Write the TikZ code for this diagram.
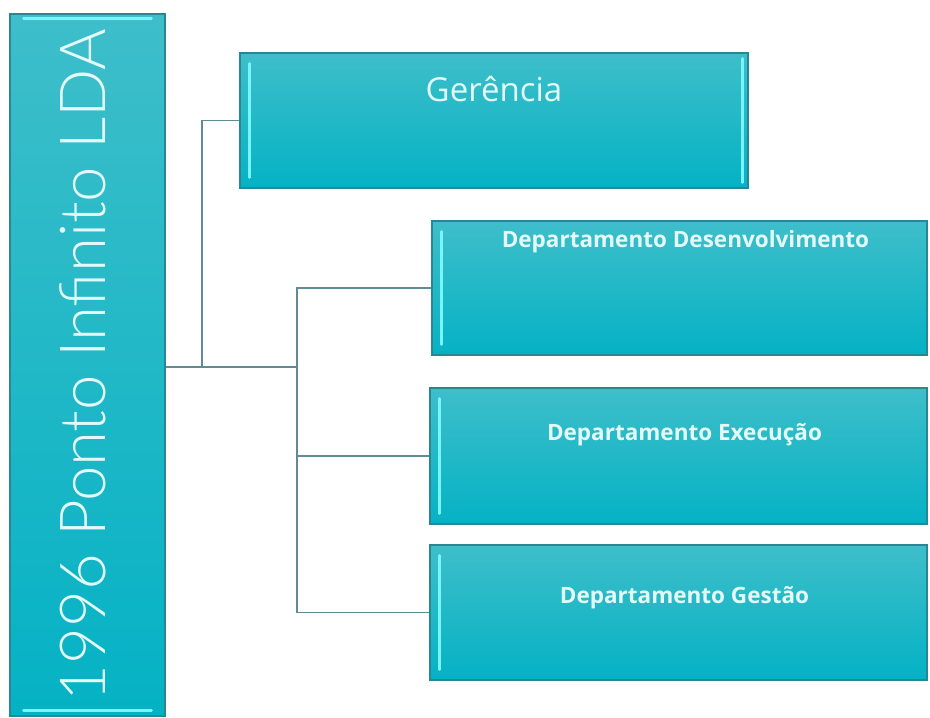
\documentclass[tikz,border=0pt]{standalone}
\usepackage{fontspec}
\setmainfont{Open Sans}
\newfontfamily\thinfont{Lato Light}
\usetikzlibrary{calc}
\definecolor{tealtop}{RGB}{62,190,202}
\definecolor{tealbot}{RGB}{4,178,196}
\definecolor{tealedge}{RGB}{40,135,146}
\definecolor{hilite}{RGB}{120,245,255}
\definecolor{linkcol}{RGB}{95,140,146}
\definecolor{txtcol}{RGB}{228,250,250}
\tikzset{
  orgbox/.style={draw=tealedge, line width=1.2pt, top color=tealtop, bottom color=tealbot,
    rectangle, inner sep=0pt},
  hbar/.style={draw=hilite, line width=2.4pt, line cap=round},
  link/.style={draw=linkcol, line width=1.4pt},
  boxtext/.style={text=txtcol, inner sep=0pt, anchor=center},
  depttext/.style={boxtext, font=\fontsize{22.5}{22.5}\selectfont\bfseries}
}
\begin{document}
\begin{tikzpicture}[x=1pt,y=-1pt]
\useasboundingbox[fill=white] (0,0) rectangle (930,718);
% left vertical box
\node[orgbox, minimum width=155pt, minimum height=702pt] (root) at (87.5,365) {};
\draw[hbar] ($(root.north west)+(14,5)$) -- ($(root.north east)+(-14,5)$);
\draw[hbar] ($(root.south west)+(14,-6)$) -- ($(root.south east)+(-14,-6)$);
\node[text=txtcol, rotate=90, font=\thinfont\fontsize{63.5}{63.5}\selectfont, inner sep=0pt] (roottxt) at (83,365) {1996 Ponto Infinito LDA};
% right boxes
\node[orgbox, minimum width=508pt, minimum height=135pt] (ger) at (494,120.5) {};
\node[orgbox, minimum width=495pt, minimum height=134pt] (dev) at (679.5,288) {};
\node[orgbox, minimum width=497pt, minimum height=136pt] (exe) at (678.5,456) {};
\node[orgbox, minimum width=497pt, minimum height=135pt] (ges) at (678.5,612.5) {};
\foreach \b in {ger,dev,exe,ges}{
  \draw[hbar] ($(\b.north west)+(10,11)$) -- ($(\b.south west)+(10,-11)$);
}
\draw[hbar] ($(ger.north east)+(-6,6)$) -- ($(ger.south east)+(-6,-6)$);
% texts
\node[boxtext, font=\fontsize{33}{33}\selectfont] (gertxt) at ($(ger.north)+(0,37)$) {Gerência};
\node[depttext] (devtxt) at ($(dev.north)+(6,21)$) {Departamento Desenvolvimento};
\node[depttext] (exetxt) at ($(exe.north)+(6,47)$) {Departamento Execução};
\node[depttext] (gestxt) at ($(ges.north)+(6,53)$) {Departamento Gestão};
% connectors
\coordinate (j1) at (202,367);
\coordinate (j2) at (297,367);
\draw[link] (root.east |- j1) -- (j2);
\draw[link] (j1) |- (ger.west);
\draw[link] (j2) |- (dev.west);
\draw[link] (j2) |- (exe.west);
\draw[link] (j2) |- (ges.west);
\end{tikzpicture}
\end{document}
